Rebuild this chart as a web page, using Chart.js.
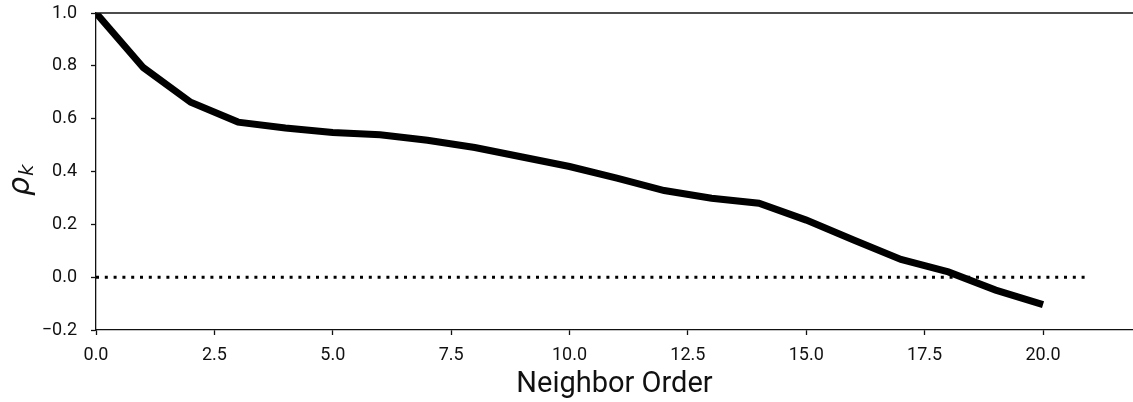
<!DOCTYPE html>
<html>
<head>
<meta charset="utf-8">
<script src="https://cdn.jsdelivr.net/npm/chart.js@4/dist/chart.umd.min.js"></script>
<style>
  html, body { margin: 0; padding: 0; background: #fff; }
  #wrap { width: 1133px; height: 402px; }
</style>
</head>
<body>
<div id="wrap"><canvas id="chart" width="1133" height="402"></canvas></div>
<script>
// neighbor order k and autocorrelation rho_k
const orders = [0, 1, 2, 3, 4, 5, 6, 7, 8, 9, 10, 11, 12, 13, 14, 15, 16, 17, 18, 19, 20];
const rhoValues = [1.0, 0.793, 0.662, 0.587, 0.565, 0.548, 0.539, 0.518, 0.491, 0.455, 0.419,
  0.375, 0.328, 0.299, 0.28, 0.216, 0.141, 0.067, 0.02, -0.049, -0.104];
const zeroLineX = [0, 21];
const xTicks = [0, 2.5, 5, 7.5, 10, 12.5, 15, 17.5, 20];
const yTicks = [-0.2, 0, 0.2, 0.4, 0.6, 0.8, 1.0];
const xRange = [0, 21.9];
const yRange = [-0.2, 1.0];

const tickFont = { family: "Roboto", size: 18 };
const ink = "#111";

function fmt(v) {
  const s = Math.abs(v).toFixed(1);
  return v < -1e-9 ? "\u2212" + s : s;
}

// rho with subscript k on the left, plus the top spine
const extras = {
  id: "extras",
  afterDraw(chart) {
    const ctx = chart.ctx;
    const a = chart.chartArea;
    ctx.save();
    ctx.strokeStyle = ink;
    ctx.lineWidth = 1.3;
    ctx.beginPath();
    ctx.moveTo(a.left, a.top);
    ctx.lineTo(a.right, a.top);
    ctx.stroke();

    ctx.translate(29, 196);
    ctx.rotate(-Math.PI / 2);
    ctx.fillStyle = ink;
    ctx.textBaseline = "alphabetic";
    ctx.font = "italic 30px 'DejaVu Sans'";
    ctx.fillText("\u03C1", 0, 0);
    const w = ctx.measureText("\u03C1").width;
    ctx.font = "italic 20px 'DejaVu Sans'";
    ctx.fillText("k", w + 1, 4);
    ctx.restore();
  }
};

new Chart(document.getElementById("chart"), {
  type: "line",
  data: {
    datasets: [
      {
        data: orders.map((k, i) => ({ x: k, y: rhoValues[i] })),
        borderColor: "#000",
        borderWidth: 7,
        pointRadius: 0,
        tension: 0,
        borderJoinStyle: "miter"
      },
      {
        data: zeroLineX.map(x => ({ x: x, y: 0 })),
        borderColor: "#000",
        borderWidth: 3,
        borderDash: [3, 5.8],
        borderCapStyle: "butt",
        pointRadius: 0
      }
    ]
  },
  options: {
    responsive: false,
    animation: false,
    layout: { padding: { top: 13, right: 0, left: 0, bottom: 0 } },
    plugins: { legend: { display: false }, tooltip: { enabled: false } },
    scales: {
      x: {
        type: "linear",
        min: xRange[0],
        max: xRange[1],
        afterBuildTicks: s => { s.ticks = xTicks.map(v => ({ value: v })); },
        afterFit: s => { s.height = 72; s.paddingRight = 0; },
        border: { display: true, color: ink, width: 1.3 },
        grid: { display: true, drawOnChartArea: false, tickLength: 5, tickColor: ink, tickWidth: 1.3 },
        ticks: { font: tickFont, color: ink, padding: 10, maxRotation: 0, callback: v => fmt(v) },
        title: { display: true, text: "Neighbor Order", font: { family: "Roboto", size: 29 }, color: ink, padding: { top: 3, bottom: 0 } }
      },
      y: {
        min: yRange[0],
        max: yRange[1],
        afterBuildTicks: s => { s.ticks = yTicks.map(v => ({ value: v })); },
        afterFit: s => { s.width = 96; s.paddingTop = 0; s.paddingBottom = 0; },
        border: { display: true, color: ink, width: 1.3 },
        grid: { display: true, drawOnChartArea: false, tickLength: 5, tickColor: ink, tickWidth: 1.3 },
        ticks: { font: tickFont, color: ink, padding: 14, callback: v => fmt(v) }
      }
    }
  },
  plugins: [extras]
});
</script>
</body>
</html>
